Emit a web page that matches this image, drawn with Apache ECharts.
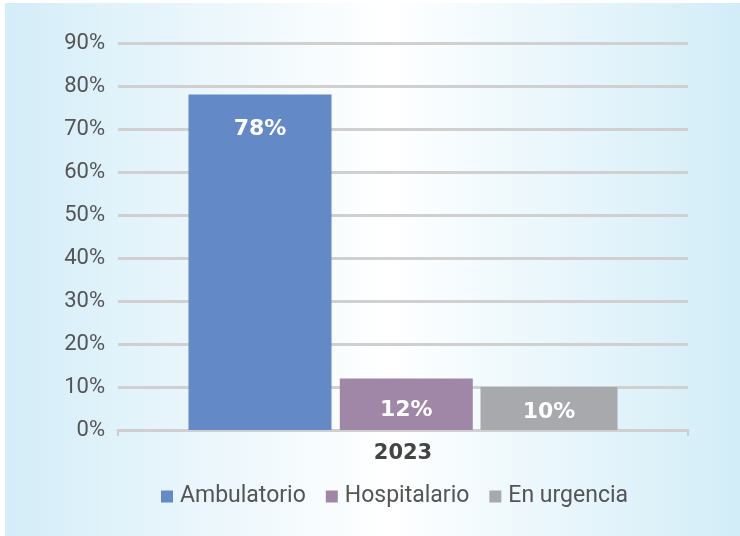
<!DOCTYPE html>
<html>
<head>
<meta charset="utf-8">
<script src="https://cdn.jsdelivr.net/npm/echarts@6/dist/echarts.min.js"></script>
<style>
  html, body { margin: 0; padding: 0; background: #ffffff; }
  #chart { width: 740px; height: 536px; }
</style>
</head>
<body>
<div id="chart"></div>
<script>
// datos
const categories = ['2023'];
const seriesNames = ['Ambulatorio', 'Hospitalario', 'En urgencia'];
const ambulatorio = [78];
const hospitalario = [12];
const urgencia = [10];
const yTicks = [0, 10, 20, 30, 40, 50, 60, 70, 80, 90];

const colors = ['#6389c6', '#a087a8', '#a8a9ac'];

const chart = echarts.init(document.getElementById('chart'));

const labelBase = {
  show: true,
  color: '#ffffff',
  fontFamily: 'DejaVu Sans',
  fontWeight: 'bold',
  fontSize: 22,
  formatter: '{c}%'
};

chart.setOption({
  backgroundColor: '#ffffff',
  animation: false,
  graphic: [{
    type: 'rect',
    z: -10,
    silent: true,
    shape: { x: 5, y: 3, width: 735, height: 533 },
    style: {
      fill: {
        type: 'linear', x: 0, y: 0, x2: 1, y2: 0,
        colorStops: [
          { offset: 0, color: '#d4edf8' },
          { offset: 0.52, color: '#ffffff' },
          { offset: 1, color: '#d2edf8' }
        ]
      }
    }
  }],
  grid: { left: 118, right: 52, top: 43, bottom: 106 },
  legend: {
    top: 480,
    left: 156,
    itemWidth: 12,
    itemHeight: 12,
    itemGap: 20,
    icon: 'rect',
    textStyle: { color: '#555555', fontSize: 23, fontFamily: 'Roboto', padding: [0, 0, 0, 2] },
    data: seriesNames
  },
  xAxis: {
    type: 'category',
    data: categories,
    axisLine: { lineStyle: { color: '#cfcfcf', width: 3 } },
    axisTick: { show: true, length: 6, lineStyle: { color: '#cfcfcf', width: 2 } },
    axisLabel: { color: '#444444', fontSize: 21, fontWeight: 'bold', fontFamily: 'DejaVu Sans', margin: 13 }
  },
  yAxis: {
    type: 'value',
    min: 0,
    max: yTicks[yTicks.length - 1],
    interval: 10,
    axisLine: { show: false },
    axisTick: { show: false },
    axisLabel: { color: '#555555', fontSize: 22, fontFamily: 'Roboto', margin: 13, formatter: '{value}%' },
    splitLine: { lineStyle: { color: '#d0d0d0', width: 3 } }
  },
  series: [
    {
      name: seriesNames[0], type: 'bar', data: ambulatorio,
      barWidth: 143, barGap: '5.8%',
      itemStyle: { color: colors[0] },
      label: Object.assign({}, labelBase, { position: 'insideTop', distance: 24 })
    },
    {
      name: seriesNames[1], type: 'bar', data: hospitalario,
      barWidth: 133, barGap: '5.8%',
      itemStyle: { color: colors[1] },
      label: Object.assign({}, labelBase, { position: 'inside', offset: [0, 6] })
    },
    {
      name: seriesNames[2], type: 'bar', data: urgencia,
      barWidth: 137, barGap: '5.8%',
      itemStyle: { color: colors[2] },
      label: Object.assign({}, labelBase, { position: 'inside', offset: [0, 4] })
    }
  ]
});
</script>
</body>
</html>
